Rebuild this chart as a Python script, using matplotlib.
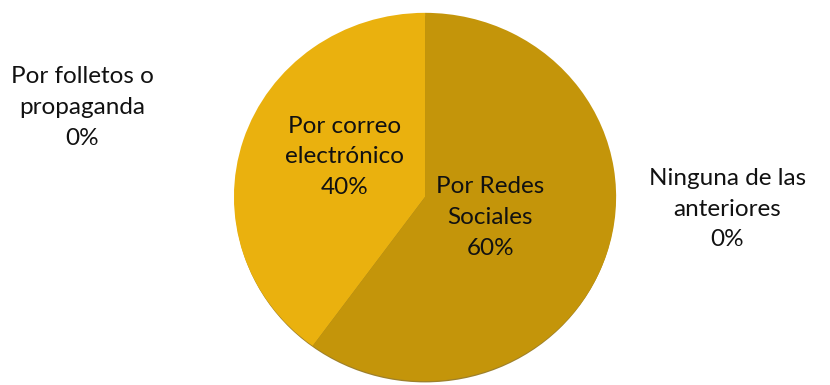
import matplotlib
matplotlib.use("Agg")
import matplotlib.pyplot as plt
from matplotlib.patches import Circle

categories = ["Por correo\nelectrónico", "Por Redes\nSociales",
              "Por folletos o\npropaganda", "Ninguna de las\nanteriores"]
values = [40, 60, 0, 0]
colors = ["#EAB10E", "#C4950A", "#DDA60C", "#B8890A"]

plt.rcParams["font.family"] = ["Lato", "DejaVu Sans"]

fig = plt.figure(figsize=(8.3, 3.85), dpi=100)
ax = fig.add_axes([0, 0, 1, 1])

# soft shadow rim under the pie
ax.add_patch(Circle((0, -0.012), 0.985, facecolor="#8C6A07", edgecolor="none",
                    alpha=0.85, zorder=0))

wedges, _ = ax.pie(values, colors=colors, startangle=90, counterclock=True,
                   radius=0.99, center=(0, 0), frame=True,
                   wedgeprops=dict(linewidth=0, zorder=1))
# slightly wider than tall, as if seen at a small tilt
ax.set_aspect("auto")
ax.set_xlim(-2.202, 2.098)
ax.set_ylim(-1.011, 1.059)
ax.axis("off")

# label anchor positions (data units)
label_pos = [(-0.415, 0.215), (0.337, -0.11), (-1.777, 0.48), (1.565, -0.065)]
total = sum(values)
for cat, v, (x, y) in zip(categories, values, label_pos):
    ax.text(x, y, f"{cat}\n{round(100 * v / total)}%", ha="center", va="center",
            fontsize=17.5, color="#111111", linespacing=1.58, zorder=3)

fig.savefig("out.png", dpi=100)
